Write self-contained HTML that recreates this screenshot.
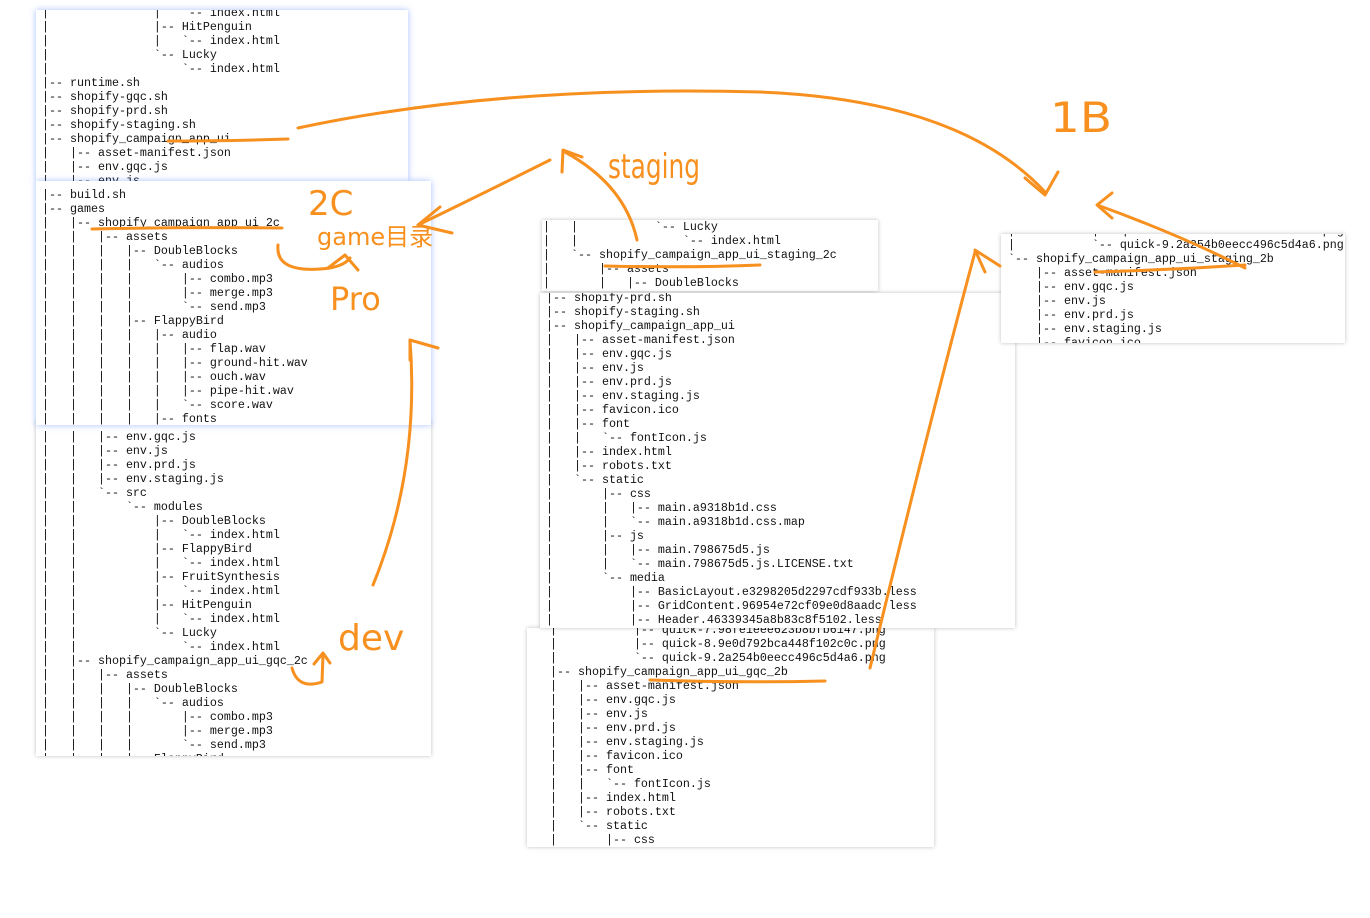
<!DOCTYPE html>
<html><head><meta charset="utf-8"><style>
html,body{margin:0;padding:0;background:#fff;width:1370px;height:918px;overflow:hidden;position:relative}
.p{position:absolute;background:#fff;overflow:hidden;box-shadow:0 0 4px rgba(0,0,0,.25)}
.p pre{position:absolute;margin:0;font-family:"Liberation Mono",monospace;font-size:11.67px;line-height:14px;color:#111}
.b{box-shadow:0 0 6px rgba(80,130,255,.5)}
svg{position:absolute;left:0;top:0}
.hw{font-family:"DejaVu Sans","Liberation Sans",sans-serif;fill:#f7901e}
</style></head><body>

<div class="p b" style="left:36px;top:10px;width:372px;height:171px">
<pre style="left:6px;top:-4px">|               |   `-- index.html
|               |-- HitPenguin
|               |   `-- index.html
|               `-- Lucky
|                   `-- index.html
|-- runtime.sh
|-- shopify-gqc.sh
|-- shopify-prd.sh
|-- shopify-staging.sh
|-- shopify_campaign_app_ui
|   |-- asset-manifest.json
|   |-- env.gqc.js
|   |-- env.js</pre></div>

<div class="p" style="left:36px;top:420px;width:395px;height:336px">
<pre style="left:6px;top:10px">|   |   |-- env.gqc.js
|   |   |-- env.js
|   |   |-- env.prd.js
|   |   |-- env.staging.js
|   |   `-- src
|   |       `-- modules
|   |           |-- DoubleBlocks
|   |           |   `-- index.html
|   |           |-- FlappyBird
|   |           |   `-- index.html
|   |           |-- FruitSynthesis
|   |           |   `-- index.html
|   |           |-- HitPenguin
|   |           |   `-- index.html
|   |           `-- Lucky
|   |               `-- index.html
|   |-- shopify_campaign_app_ui_gqc_2c
|   |   |-- assets
|   |   |   |-- DoubleBlocks
|   |   |   |   `-- audios
|   |   |   |       |-- combo.mp3
|   |   |   |       |-- merge.mp3
|   |   |   |       `-- send.mp3
|   |   |   |-- FlappyBird</pre></div>

<div class="p b" style="left:36px;top:181px;width:395px;height:244px">
<pre style="left:6px;top:7px">|-- build.sh
|-- games
|   |-- shopify_campaign_app_ui_2c
|   |   |-- assets
|   |   |   |-- DoubleBlocks
|   |   |   |   `-- audios
|   |   |   |       |-- combo.mp3
|   |   |   |       |-- merge.mp3
|   |   |   |       `-- send.mp3
|   |   |   |-- FlappyBird
|   |   |   |   |-- audio
|   |   |   |   |   |-- flap.wav
|   |   |   |   |   |-- ground-hit.wav
|   |   |   |   |   |-- ouch.wav
|   |   |   |   |   |-- pipe-hit.wav
|   |   |   |   |   `-- score.wav
|   |   |   |   |-- fonts</pre></div>

<div class="p" style="left:542px;top:220px;width:336px;height:71px">
<pre style="left:1px;top:0px">|   |           `-- Lucky
|   |               `-- index.html
|   `-- shopify_campaign_app_ui_staging_2c
|       |-- assets
|       |   |-- DoubleBlocks</pre></div>

<div class="p" style="left:527px;top:628px;width:407px;height:219px">
<pre style="left:23px;top:-5px">|           |-- quick-7.98fe1eee623b8bfb6147.png
|           |-- quick-8.9e0d792bca448f102c0c.png
|           `-- quick-9.2a254b0eecc496c5d4a6.png
|-- shopify_campaign_app_ui_gqc_2b
|   |-- asset-manifest.json
|   |-- env.gqc.js
|   |-- env.js
|   |-- env.prd.js
|   |-- env.staging.js
|   |-- favicon.ico
|   |-- font
|   |   `-- fontIcon.js
|   |-- index.html
|   |-- robots.txt
|   `-- static
|       |-- css</pre></div>

<div class="p" style="left:540px;top:293px;width:475px;height:335px">
<pre style="left:6px;top:-2px">|-- shopify-prd.sh
|-- shopify-staging.sh
|-- shopify_campaign_app_ui
|   |-- asset-manifest.json
|   |-- env.gqc.js
|   |-- env.js
|   |-- env.prd.js
|   |-- env.staging.js
|   |-- favicon.ico
|   |-- font
|   |   `-- fontIcon.js
|   |-- index.html
|   |-- robots.txt
|   `-- static
|       |-- css
|       |   |-- main.a9318b1d.css
|       |   `-- main.a9318b1d.css.map
|       |-- js
|       |   |-- main.798675d5.js
|       |   `-- main.798675d5.js.LICENSE.txt
|       `-- media
|           |-- BasicLayout.e3298205d2297cdf933b.less
|           |-- GridContent.96954e72cf09e0d8aadc.less
|           |-- Header.46339345a8b83c8f5102.less</pre></div>

<div class="p" style="left:1001px;top:234px;width:344px;height:109px">
<pre style="left:7px;top:-10px">|           |-- quick-8.9e0d792bca448f102c0c.png
|           `-- quick-9.2a254b0eecc496c5d4a6.png
`-- shopify_campaign_app_ui_staging_2b
    |-- asset-manifest.json
    |-- env.gqc.js
    |-- env.js
    |-- env.prd.js
    |-- env.staging.js
    |-- favicon.ico</pre></div>

<svg width="1370" height="918" viewBox="0 0 1370 918">
<g fill="none" stroke="#f7901e" stroke-width="3" stroke-linecap="round" stroke-linejoin="round">
<path d="M168,141 Q230,141 288,139"/>
<path d="M298,128 Q500,85 760,92 Q960,100 1045,192"/>
<path d="M1025,178 L1045,195 L1058,172"/>
<path d="M1095,272 Q1170,270 1245,265"/>
<path d="M1245,268 Q1180,235 1100,206"/>
<path d="M1112,193 L1097,205 L1112,218"/>
<path d="M637,240 Q625,185 565,152"/>
<path d="M562,172 L563,150 L582,157"/>
<path d="M605,266 Q690,268 760,265"/>
<path d="M550,160 Q480,195 418,225"/>
<path d="M440,207 L418,225 L452,233"/>
<path d="M92,229 Q190,227 282,228"/>
<path d="M278,245 Q275,275 330,268 Q345,265 350,258"/>
<path d="M328,268 L345,255 L358,270"/>
<path d="M373,585 Q420,470 410,340"/>
<path d="M410,360 L410,340 L438,348"/>
<path d="M292,668 Q298,690 322,682 L323,655"/>
<path d="M314,664 L323,653 L330,663"/>
<path d="M650,680 Q740,683 825,681"/>
<path d="M870,668 Q930,420 975,252"/>
<path d="M985,272 L975,250 L1000,266"/>
</g>
<text class="hw" x="1050" y="132" font-size="42" textLength="62" lengthAdjust="spacingAndGlyphs">1B</text>
<text class="hw" x="608" y="178" font-size="34" textLength="92" lengthAdjust="spacingAndGlyphs">staging</text>
<text class="hw" x="308" y="215" font-size="34">2C</text>
<text class="hw" x="317" y="245" font-size="24">game目录</text>
<text class="hw" x="330" y="310" font-size="32">Pro</text>
<text class="hw" x="338" y="650" font-size="36">dev</text>
</svg>
</body></html>
